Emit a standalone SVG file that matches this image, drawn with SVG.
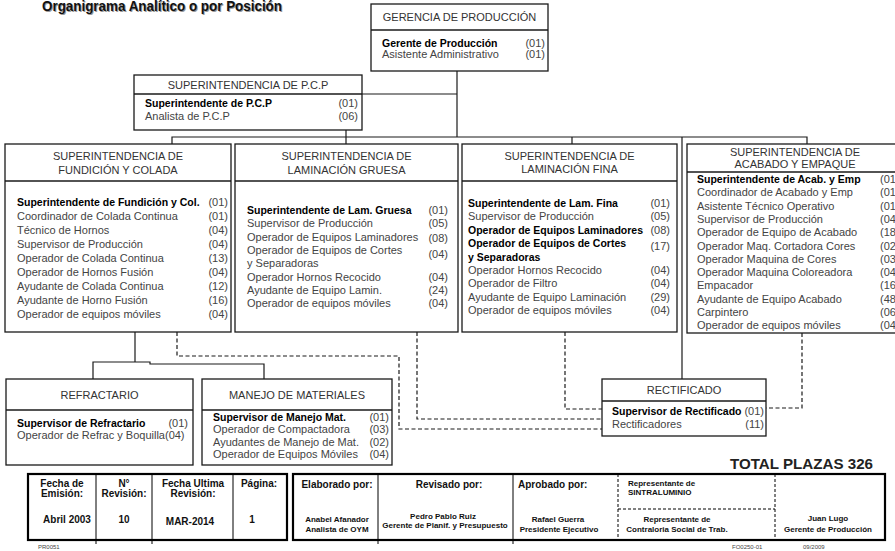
<svg xmlns="http://www.w3.org/2000/svg" width="895" height="551" viewBox="0 0 895 551">
<style>
text{font-family:"Liberation Sans",Arial,sans-serif}
.box{fill:#fff;stroke:#1a1a1a;stroke-width:1.3}
.dv{stroke:#1a1a1a;stroke-width:1.3}
.hd{font-size:11px;fill:#333;text-anchor:middle}
.it{font-size:11px;fill:#444}
.b{font-size:10.5px;font-weight:bold;fill:#000}
.n{font-size:11px;fill:#444;text-anchor:end}
.ln{stroke:#1a1a1a;stroke-width:1.2;fill:none}
.dl{stroke:#1a1a1a;stroke-width:1.2;fill:none;stroke-dasharray:4 2.5}
.tbox{fill:#fff;stroke:#000;stroke-width:2.2}
.tl{stroke:#000;stroke-width:1}
.td{stroke:#000;stroke-width:1;stroke-dasharray:3 2}
.th{font-size:10px;font-weight:bold;fill:#111;text-anchor:middle}
.thl{font-size:10px;font-weight:bold;fill:#111;text-anchor:start}
.ts{font-size:8px;font-weight:bold;fill:#111;text-anchor:middle}
.tsl{font-size:8px;font-weight:bold;fill:#111;text-anchor:start}
.ft{font-size:6px;fill:#444}
</style>
<rect width="895" height="551" fill="#fff"/>
<g id="title">
<text x="43" y="12" font-size="14" font-weight="bold" fill="#999" textLength="240" lengthAdjust="spacingAndGlyphs">Organigrama Analítico o por Posición</text>
<text x="42" y="11" font-size="14" font-weight="bold" fill="#111" textLength="240" lengthAdjust="spacingAndGlyphs">Organigrama Analítico o por Posición</text>
</g>
<g id="connectors">
<path class="ln" d="M457,71 V137"/>
<path class="ln" d="M362,94 H457"/>
<path class="ln" d="M172,144 V137 H807 V144"/>
<path class="ln" d="M346,130 V144"/>
<path class="ln" d="M572,137 V144"/>
<path class="ln" d="M682,137 V379"/>
<path class="ln" d="M135,332 V362"/>
<path class="ln" d="M93,379 V362 H150 V364 H264 V379"/>
<path class="dl" d="M177,332 V356 H399 V429 H602"/>
<path class="dl" d="M417,332 V419 H602"/>
<path class="dl" d="M565,332 V409 H602"/>
<path class="dl" d="M802,333 V408 H766"/>
</g>
<g id="n-gerencia">
<rect class="box" x="371" y="4" width="177" height="67"/>
<line class="dv" x1="371" y1="30" x2="548" y2="30"/>
<text class="hd" x="459.5" y="21">GERENCIA DE PRODUCCIÓN</text>
<text class="b" x="382" y="47">Gerente de Producción</text><text class="n" x="545" y="47">(01)</text>
<text class="it" x="382" y="58">Asistente Administrativo</text><text class="n" x="545" y="58">(01)</text>
</g>
<g id="n-pcp">
<rect class="box" x="134" y="75" width="228" height="55"/>
<line class="dv" x1="134" y1="94" x2="362" y2="94"/>
<text class="hd" x="248" y="89">SUPERINTENDENCIA DE P.C.P</text>
<text class="b" x="145" y="107">Superintendente de P.C.P</text><text class="n" x="358" y="107">(01)</text>
<text class="it" x="145" y="120">Analista de P.C.P</text><text class="n" x="358" y="120">(06)</text>
</g>
<g id="n-fundicion">
<rect class="box" x="5" y="144" width="226" height="188"/>
<line class="dv" x1="5" y1="181" x2="231" y2="181"/>
<text class="hd" x="118" y="160">SUPERINTENDENCIA DE</text>
<text class="hd" x="118" y="174">FUNDICIÓN Y COLADA</text>
<text class="b" x="17" y="206">Superintendente de Fundición y Col.</text><text class="n" x="228" y="206">(01)</text>
<text class="it" x="17" y="220">Coordinador de Colada Continua</text><text class="n" x="228" y="220">(01)</text>
<text class="it" x="17" y="234">Técnico de Hornos</text><text class="n" x="228" y="234">(04)</text>
<text class="it" x="17" y="248">Supervisor de Producción</text><text class="n" x="228" y="248">(04)</text>
<text class="it" x="17" y="262">Operador de Colada Continua</text><text class="n" x="228" y="262">(13)</text>
<text class="it" x="17" y="276">Operador de Hornos Fusión</text><text class="n" x="228" y="276">(04)</text>
<text class="it" x="17" y="290">Ayudante de Colada Continua</text><text class="n" x="228" y="290">(12)</text>
<text class="it" x="17" y="304">Ayudante de Horno Fusión</text><text class="n" x="228" y="304">(16)</text>
<text class="it" x="17" y="318">Operador de equipos móviles</text><text class="n" x="228" y="318">(04)</text>
</g>
<g id="n-lam-gruesa">
<rect class="box" x="235" y="144" width="223" height="188"/>
<line class="dv" x1="235" y1="181" x2="458" y2="181"/>
<text class="hd" x="346.5" y="160">SUPERINTENDENCIA DE</text>
<text class="hd" x="346.5" y="174">LAMINACIÓN GRUESA</text>
<text class="b" x="247" y="214">Superintendente de Lam. Gruesa</text><text class="n" x="448" y="214">(01)</text>
<text class="it" x="247" y="227">Supervisor de Producción</text><text class="n" x="448" y="227">(05)</text>
<text class="it" x="247" y="241">Operador de Equipos Laminadores</text><text class="n" x="448" y="242">(08)</text>
<text class="it" x="247" y="254">Operador de Equipos de Cortes</text><text class="n" x="448" y="258">(04)</text>
<text class="it" x="247" y="267">y Separadoras</text>
<text class="it" x="247" y="281">Operador Hornos Recocido</text><text class="n" x="448" y="281">(04)</text>
<text class="it" x="247" y="294">Ayudante de Equipo Lamin.</text><text class="n" x="448" y="294">(24)</text>
<text class="it" x="247" y="307">Operador de equipos móviles</text><text class="n" x="448" y="307">(04)</text>
</g>
<g id="n-lam-fina">
<rect class="box" x="462" y="144" width="215" height="188"/>
<line class="dv" x1="462" y1="181" x2="677" y2="181"/>
<text class="hd" x="569.5" y="160">SUPERINTENDENCIA DE</text>
<text class="hd" x="569.5" y="173">LAMINACIÓN FINA</text>
<text class="b" x="468" y="207">Superintendente de Lam. Fina</text><text class="n" x="670" y="207">(01)</text>
<text class="it" x="468" y="220">Supervisor de Producción</text><text class="n" x="670" y="220">(05)</text>
<text class="b" x="468" y="234">Operador de Equipos Laminadores</text><text class="n" x="670" y="234">(08)</text>
<text class="b" x="468" y="247">Operador de Equipos de Cortes</text><text class="n" x="670" y="250">(17)</text>
<text class="b" x="468" y="261">y Separadoras</text>
<text class="it" x="468" y="274">Operador Hornos Recocido</text><text class="n" x="670" y="274">(04)</text>
<text class="it" x="468" y="287">Operador de Filtro</text><text class="n" x="670" y="287">(04)</text>
<text class="it" x="468" y="301">Ayudante de Equipo Laminación</text><text class="n" x="670" y="301">(29)</text>
<text class="it" x="468" y="314">Operador de equipos móviles</text><text class="n" x="670" y="314">(04)</text>
</g>
<g id="n-acabado">
<rect class="box" x="687" y="144" width="218" height="189"/>
<line class="dv" x1="687" y1="172" x2="905" y2="172"/>
<text class="hd" x="795" y="156">SUPERINTENDENCIA DE</text>
<text class="hd" x="795" y="168">ACABADO Y EMPAQUE</text>
<text class="b" x="697" y="183">Superintendente de Acab. y Emp</text><text class="it" x="880" y="183">(01)</text>
<text class="it" x="697" y="196.3">Coordinador de Acabado y Emp</text><text class="it" x="880" y="196.3">(01)</text>
<text class="it" x="697" y="209.6">Asistente Técnico Operativo</text><text class="it" x="880" y="209.6">(01)</text>
<text class="it" x="697" y="222.9">Supervisor de Producción</text><text class="it" x="880" y="222.9">(04)</text>
<text class="it" x="697" y="236.2">Operador de Equipo de Acabado</text><text class="it" x="880" y="236.2">(18)</text>
<text class="it" x="697" y="249.5">Operador Maq. Cortadora Cores</text><text class="it" x="880" y="249.5">(02)</text>
<text class="it" x="697" y="262.8">Operador Maquina de Cores</text><text class="it" x="880" y="262.8">(03)</text>
<text class="it" x="697" y="276.1">Operador Maquina Coloreadora</text><text class="it" x="880" y="276.1">(04)</text>
<text class="it" x="697" y="289.4">Empacador</text><text class="it" x="880" y="289.4">(16)</text>
<text class="it" x="697" y="302.7">Ayudante de Equipo Acabado</text><text class="it" x="880" y="302.7">(48)</text>
<text class="it" x="697" y="316">Carpintero</text><text class="it" x="880" y="316">(06)</text>
<text class="it" x="697" y="329.3">Operador de equipos móviles</text><text class="it" x="880" y="329.3">(04)</text>
</g>
<g id="n-refractario">
<rect class="box" x="6" y="379" width="187" height="86"/>
<line class="dv" x1="6" y1="410" x2="193" y2="410"/>
<text class="hd" x="99.5" y="399">REFRACTARIO</text>
<text class="b" x="17" y="427">Supervisor de Refractario</text><text class="n" x="188" y="427">(01)</text>
<text class="it" x="17" y="439">Operador de Refrac y Boquilla(04)</text>
</g>
<g id="n-manejo">
<rect class="box" x="202" y="379" width="190" height="86"/>
<line class="dv" x1="202" y1="410" x2="392" y2="410"/>
<text class="hd" x="297" y="399">MANEJO DE MATERIALES</text>
<text class="b" x="213" y="421">Supervisor de Manejo Mat.</text><text class="n" x="389" y="421">(01)</text>
<text class="it" x="213" y="433">Operador de Compactadora</text><text class="n" x="389" y="433">(03)</text>
<text class="it" x="213" y="446">Ayudantes de Manejo de Mat.</text><text class="n" x="389" y="446">(02)</text>
<text class="it" x="213" y="458">Operador de Equipos Móviles</text><text class="n" x="389" y="458">(04)</text>
</g>
<g id="n-rectificado">
<rect class="box" x="602" y="379" width="164" height="57"/>
<line class="dv" x1="602" y1="401" x2="766" y2="401"/>
<text class="hd" x="684" y="394">RECTIFICADO</text>
<text class="b" x="612" y="415">Supervisor de Rectificado</text><text class="n" x="764" y="415">(01)</text>
<text class="it" x="612" y="428">Rectificadores</text><text class="n" x="764" y="428">(11)</text>
</g>
<g id="total">
<text x="730" y="469" font-size="15" font-weight="bold" fill="#222" textLength="143" lengthAdjust="spacingAndGlyphs">TOTAL PLAZAS 326</text>
</g>
<g id="table-left">
<rect class="tbox" x="28" y="474" width="259" height="66"/>
<line class="tl" x1="96" y1="474" x2="96" y2="544"/>
<line class="tl" x1="152" y1="474" x2="152" y2="544"/>
<line class="tl" x1="233" y1="474" x2="233" y2="540"/>
<text class="th" x="62" y="487">Fecha de</text>
<text class="th" x="62" y="497">Emisión:</text>
<text class="th" x="124" y="487">N°</text>
<text class="th" x="124" y="497">Revisión:</text>
<text class="th" x="193" y="487">Fecha Ultima</text>
<text class="th" x="193" y="497">Revisión:</text>
<text class="th" x="259" y="487">Página:</text>
<text class="th" x="67" y="523">Abril 2003</text>
<text class="th" x="124" y="523">10</text>
<text class="th" x="190" y="525">MAR-2014</text>
<text class="th" x="252" y="523">1</text>
</g>
<g id="table-right">
<rect class="tbox" x="293" y="474" width="592" height="66"/>
<line class="tl" x1="378" y1="474" x2="378" y2="544"/>
<line class="tl" x1="513" y1="474" x2="513" y2="544"/>
<line class="td" x1="618" y1="474" x2="618" y2="540"/>
<line class="td" x1="775" y1="474" x2="775" y2="540"/>
<line class="td" x1="618" y1="509" x2="775" y2="509"/>
<text class="th" x="337" y="488">Elaborado por:</text>
<text class="th" x="449" y="488">Revisado por:</text>
<text class="thl" x="518" y="488">Aprobado por:</text>
<text class="tsl" x="628" y="486">Representante de</text>
<text class="tsl" x="628" y="495">SINTRALUMINIO</text>
<text class="ts" x="337" y="522">Anabel Afanador</text>
<text class="ts" x="337" y="532">Analista de OYM</text>
<text class="ts" x="443" y="519">Pedro Pablo Ruiz</text>
<text class="ts" x="445" y="528">Gerente de Planif. y Presupuesto</text>
<text class="ts" x="558" y="522">Rafael Guerra</text>
<text class="ts" x="559" y="532">Presidente Ejecutivo</text>
<text class="ts" x="677" y="522">Representante de</text>
<text class="ts" x="677" y="532">Contraloria Social de Trab.</text>
<text class="ts" x="828" y="521">Juan Lugo</text>
<text class="ts" x="828" y="532">Gerente de Producción</text>
</g>
<g id="footer">
<text class="ft" x="38" y="549">PR0051</text>
<text class="ft" x="732" y="549">FO0250-01</text>
<text class="ft" x="803" y="549">09/2009</text>
</g>
</svg>
